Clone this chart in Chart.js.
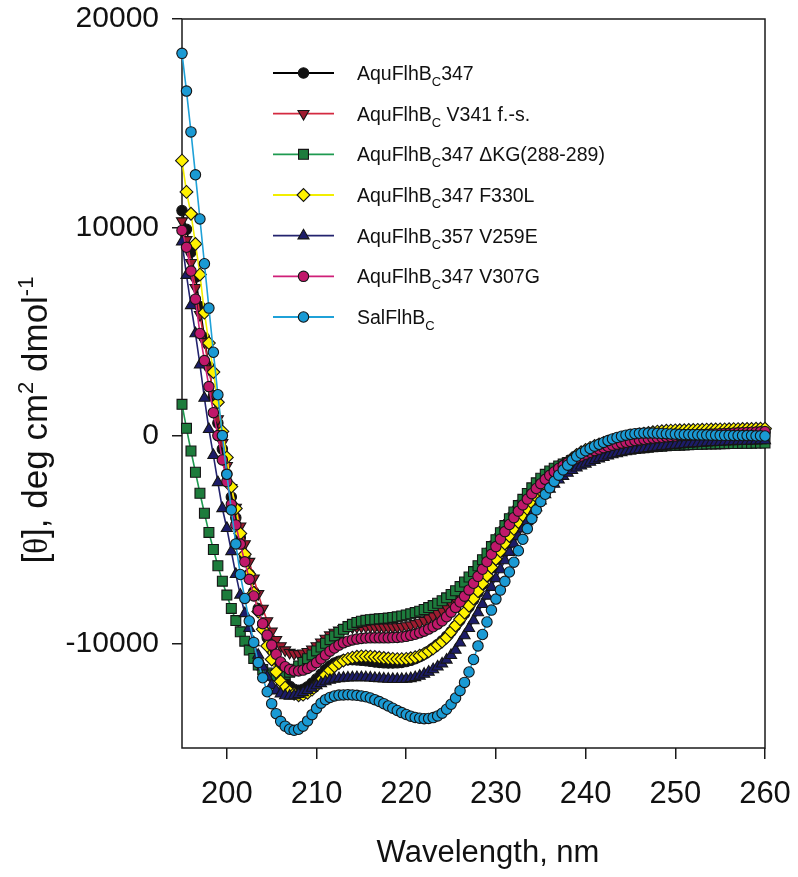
<!DOCTYPE html>
<html>
<head>
<meta charset="utf-8">
<script src="https://cdn.jsdelivr.net/npm/chart.js@4.4.1/dist/chart.umd.min.js"></script>
<style>
  html, body { margin: 0; padding: 0; background: #fff; }
  canvas { display: block; }
</style>
</head>
<body>
<canvas id="cd" width="798" height="877"></canvas>
<script>
// wavelength grid of the CD scans, nm (0.5 nm steps, 195..260)
const wavelengths = [];
for (let w = 195; w <= 260; w += 0.5) wavelengths.push(w);

const xTicks = [200, 210, 220, 230, 240, 250, 260];
const yTicks = [-10000, 0, 10000, 20000];

// legend names, "_C" = subscript C
const seriesNames = [
  'AquFlhB_C347',
  'AquFlhB_C V341 f.-s.',
  'AquFlhB_C347 \u0394KG(288-289)',
  'AquFlhB_C347 F330L',
  'AquFlhB_C357 V259E',
  'AquFlhB_C347 V307G',
  'SalFlhB_C'
];

// mean residue ellipticity, deg cm2 dmol-1
const aqu347 = [
  10800, 9900, 8800, 7600, 6200, 4700, 3300, 1900, 600, -650,
  -1850, -2950, -3950, -4900, -5800, -6650, -7500, -8300, -9050, -9700,
  -10300, -10850, -11350, -11750, -12030, -12180, -12230, -12180, -12060, -11880,
  -11680, -11450, -11230, -11050, -10920, -10830, -10780, -10760, -10760, -10770,
  -10790, -10810, -10840, -10870, -10890, -10910, -10920, -10920, -10910, -10890,
  -10850, -10790, -10710, -10610, -10490, -10350, -10200, -10030, -9850, -9640,
  -9410, -9140, -8860, -8550, -8230, -7890, -7530, -7150, -6760, -6360,
  -5960, -5570, -5190, -4820, -4470, -4130, -3810, -3500, -3200, -2910,
  -2630, -2370, -2120, -1890, -1680, -1480, -1300, -1140, -1000, -870,
  -760, -660, -570, -490, -420, -350, -290, -240, -190, -150,
  -110, -80, -50, -30, -10, 10, 20, 30, 40, 50,
  60, 60, 70, 70, 80, 80, 90, 90, 90, 100,
  100, 100, 110, 110, 110, 120, 120, 120, 120, 130,
  130
];
const aquV341fs = [
  10300, 9400, 8300, 7100, 5800, 4500, 3200, 2000, 800, -350,
  -1450, -2500, -3450, -4350, -5200, -6050, -6850, -7600, -8300, -8900,
  -9400, -9800, -10100, -10300, -10420, -10470, -10480, -10450, -10380, -10260,
  -10100, -9920, -9740, -9580, -9450, -9350, -9280, -9230, -9200, -9180,
  -9170, -9170, -9170, -9180, -9190, -9200, -9200, -9200, -9190, -9170,
  -9140, -9100, -9040, -8970, -8880, -8780, -8670, -8540, -8400, -8240,
  -8060, -7860, -7640, -7400, -7140, -6860, -6560, -6240, -5910, -5570,
  -5220, -4870, -4520, -4180, -3860, -3550, -3260, -2980, -2720, -2480,
  -2250, -2040, -1850, -1680, -1520, -1380, -1250, -1130, -1020, -920,
  -830, -740, -660, -590, -520, -460, -400, -350, -300, -250,
  -210, -170, -130, -100, -70, -40, -20, 0, 20, 40,
  60, 70, 80, 90, 100, 110, 120, 130, 140, 150,
  160, 170, 170, 180, 180, 190, 190, 200, 200, 210,
  210
];
const aquDeltaKG = [
  1500, 350, -740, -1760, -2770, -3730, -4650, -5470, -6250, -6990,
  -7660, -8300, -8880, -9420, -9870, -10300, -10700, -11020, -11230, -11400,
  -11490, -11530, -11520, -11460, -11360, -11220, -11060, -10890, -10710, -10530,
  -10340, -10150, -9970, -9800, -9620, -9450, -9300, -9170, -9060, -8970,
  -8910, -8870, -8840, -8820, -8800, -8780, -8760, -8730, -8700, -8660,
  -8610, -8560, -8500, -8430, -8350, -8260, -8160, -8050, -7930, -7790,
  -7630, -7450, -7250, -7030, -6790, -6530, -6250, -5960, -5650, -5330,
  -5000, -4660, -4320, -3990, -3670, -3360, -3060, -2780, -2510, -2270,
  -2050, -1860, -1700, -1570, -1460, -1370, -1290, -1220, -1150, -1090,
  -1030, -980, -930, -880, -840, -800, -760, -730, -700, -670,
  -650, -620, -600, -580, -560, -540, -520, -510, -490, -480,
  -470, -460, -450, -440, -430, -420, -420, -410, -400, -400,
  -390, -390, -380, -380, -380, -370, -370, -370, -360, -360,
  -360
];
const aquF330L = [
  13200, 11700, 10650, 9200, 7730, 5900, 4440, 3050, 1600, 200,
  -1050, -2450, -3500, -4700, -5700, -6650, -7550, -8450, -9300, -10100,
  -10750, -11350, -11800, -12100, -12300, -12400, -12470, -12440, -12350, -12200,
  -12000, -11750, -11500, -11270, -11080, -10920, -10800, -10720, -10660, -10620,
  -10600, -10600, -10610, -10630, -10650, -10680, -10700, -10720, -10730, -10730,
  -10720, -10690, -10640, -10570, -10480, -10360, -10220, -10060, -9890, -9700,
  -9420, -9120, -8820, -8500, -8170, -7830, -7470, -7100, -6720, -6330,
  -5930, -5550, -5180, -4820, -4480, -4150, -3830, -3520, -3220, -2930,
  -2650, -2380, -2120, -1880, -1650, -1440, -1250, -1080, -930, -800,
  -690, -590, -500, -420, -350, -290, -230, -180, -140, -100,
  -50, 0, 50, 90, 130, 160, 190, 210, 230, 240,
  250, 255, 260, 265, 270, 275, 280, 285, 290, 295,
  300, 300, 305, 310, 310, 315, 320, 320, 325, 330,
  330
];
const aqu357V259E = [
  9300, 7700, 6250, 4900, 3400, 1800, 300, -950, -2250, -3500,
  -4450, -5560, -6660, -7650, -8540, -9250, -9940, -10540, -11100, -11590,
  -11990, -12250, -12400, -12480, -12500, -12480, -12420, -12330, -12230, -12120,
  -12000, -11900, -11810, -11740, -11690, -11660, -11640, -11630, -11620, -11610,
  -11610, -11620, -11630, -11650, -11660, -11680, -11690, -11700, -11700, -11700,
  -11690, -11660, -11610, -11540, -11450, -11350, -11230, -11100, -10960, -10770,
  -10550, -10300, -9950, -9600, -9250, -8880, -8500, -8100, -7700, -7280,
  -6860, -6430, -6000, -5600, -5200, -4830, -4470, -4120, -3780, -3450,
  -3130, -2830, -2560, -2330, -2120, -1950, -1800, -1670, -1550, -1450,
  -1360, -1270, -1190, -1110, -1040, -970, -910, -860, -810, -770,
  -730, -700, -670, -640, -610, -580, -550, -520, -500, -480,
  -460, -440, -420, -400, -390, -370, -360, -340, -330, -320,
  -310, -300, -290, -280, -270, -260, -260, -250, -250, -240,
  -240
];
const aquV307G = [
  9850, 9040, 7900, 6550, 4900, 3600, 2350, 1100, 0, -1170,
  -2210, -3300, -4290, -5210, -6060, -6900, -7700, -8400, -9030, -9580,
  -10060, -10500, -10870, -11100, -11240, -11300, -11300, -11260, -11180, -11060,
  -10900, -10720, -10530, -10350, -10200, -10060, -9950, -9870, -9810, -9770,
  -9740, -9720, -9710, -9710, -9710, -9710, -9710, -9700, -9690, -9670,
  -9640, -9590, -9540, -9470, -9390, -9290, -9180, -9050, -8900, -8700,
  -8480, -8250, -7990, -7710, -7410, -7090, -6760, -6420, -6060, -5700,
  -5330, -4970, -4610, -4270, -3940, -3630, -3330, -3050, -2790, -2540,
  -2310, -2100, -1910, -1740, -1580, -1440, -1310, -1190, -1080, -980,
  -890, -800, -720, -650, -580, -520, -460, -410, -360, -320,
  -280, -240, -210, -180, -150, -120, -100, -80, -60, -40,
  -20, 0, 10, 20, 30, 40, 50, 60, 70, 80,
  90, 100, 110, 120, 130, 140, 150, 160, 170, 180,
  190
];
const salFlhBC = [
  18350, 16540, 14580, 12520, 10400, 8250, 6120, 4000, 1960, 0,
  -1860, -3570, -5200, -6670, -7820, -8900, -9930, -10900, -11630, -12300,
  -12870, -13350, -13720, -13950, -14100, -14150, -14100, -13950, -13700, -13400,
  -13100, -12850, -12680, -12570, -12500, -12460, -12450, -12440, -12450, -12470,
  -12500, -12540, -12600, -12680, -12770, -12870, -12980, -13090, -13200, -13300,
  -13390, -13470, -13530, -13570, -13590, -13580, -13540, -13460, -13330, -13140,
  -12900, -12600, -12250, -11850, -11350, -10750, -10100, -9550, -8950, -8380,
  -7850, -7420, -7000, -6550, -6080, -5530, -4980, -4470, -3990, -3570,
  -3170, -2820, -2510, -2200, -1900, -1650, -1420, -1180, -990, -850,
  -730, -620, -510, -420, -330, -240, -160, -90, -30, 20,
  60, 90, 110, 120, 120, 120, 110, 100, 90, 80,
  70, 60, 50, 50, 40, 40, 30, 30, 20, 20,
  10, 10, 10, 0, 0, 0, 0, 0, -10, -10,
  -20
];

const seriesValues = [aqu347, aquV341fs, aquDeltaKG, aquF330L, aqu357V259E, aquV307G, salFlhBC];

const lineColors = ['#000000', '#d42a40', '#1e9a50', '#f2ee00', '#23236e', '#cf1f78', '#1fa1d8'];
const fillColors = ['#111111', '#9e1b30', '#1d7c3c', '#fff200', '#1c1c68', '#c0186a', '#1a9ad4'];
const pointStyles = ['circle', 'triangle', 'rect', 'rectRot', 'triangle', 'circle', 'circle'];
const pointRotations = [0, 180, 0, 0, 0, 0, 0];
const pointRadii = [5.2, 6.4, 7, 6.4, 6.4, 5.2, 5.2];

const SANS = '"Liberation Sans", Arial, Helvetica, sans-serif';
const SERIF = '"Liberation Serif", "Times New Roman", serif';

const datasets = seriesValues.map((vals, i) => ({
  label: seriesNames[i].replace('_', ''),
  data: vals.map((v, j) => ({ x: wavelengths[j], y: v })),
  borderColor: lineColors[i],
  borderWidth: 1.6,
  backgroundColor: fillColors[i],
  pointBackgroundColor: fillColors[i],
  pointBorderColor: '#151515',
  pointBorderWidth: 1.1,
  pointStyle: pointStyles[i],
  rotation: pointRotations[i],
  pointRadius: pointRadii[i],
  tension: 0,
  clip: false,
  order: seriesValues.length - 1 - i
}));

// draw text made of runs (font, baseline shift)
function drawRuns(ctx, runs, x, y) {
  let cx = x;
  runs.forEach(r => {
    ctx.font = r.font;
    ctx.fillText(r.t, cx, y + (r.dy || 0));
    cx += ctx.measureText(r.t).width;
  });
}
function runsWidth(ctx, runs) {
  let w = 0;
  runs.forEach(r => { ctx.font = r.font; w += ctx.measureText(r.t).width; });
  return w;
}

const framePlugin = {
  id: 'frame',
  beforeDatasetsDraw(chart) {
    const { ctx, chartArea: a } = chart;
    ctx.save();
    ctx.strokeStyle = '#1a1a1a';
    ctx.lineWidth = 1.5;
    ctx.strokeRect(a.left, a.top, a.right - a.left, a.bottom - a.top);
    ctx.restore();
  }
};

const textPlugin = {
  id: 'texts',
  afterDraw(chart) {
    const ctx = chart.ctx;
    ctx.save();
    ctx.fillStyle = '#111';
    ctx.textBaseline = 'alphabetic';
    ctx.textAlign = 'left';

    // legend
    const rowTop = 73, rowStep = 40.67;
    seriesNames.forEach((name, i) => {
      const y = rowTop + i * rowStep;
      ctx.strokeStyle = lineColors[i];
      ctx.lineWidth = 1.8;
      ctx.beginPath();
      ctx.moveTo(273, y);
      ctx.lineTo(334, y);
      ctx.stroke();
      ctx.fillStyle = fillColors[i];
      ctx.strokeStyle = '#151515';
      ctx.lineWidth = 1.1;
      Chart.helpers.drawPoint(ctx, {
        pointStyle: pointStyles[i], radius: pointRadii[i],
        rotation: pointRotations[i], borderWidth: 1.1
      }, 303.5, y);
      const k = name.indexOf('_');
      const runs = [
        { t: name.slice(0, k), font: '19.5px ' + SANS },
        { t: name.charAt(k + 1), font: '13px ' + SANS, dy: 6 },
        { t: name.slice(k + 2), font: '19.5px ' + SANS }
      ];
      ctx.fillStyle = '#111';
      drawRuns(ctx, runs, 357, y + 7);
    });

    // y axis title
    const yRuns = [
      { t: '[', font: '35px ' + SANS },
      { t: '\u03b8', font: '33px ' + SERIF },
      { t: '], deg cm', font: '35px ' + SANS },
      { t: '2', font: '22px ' + SANS, dy: -14 },
      { t: ' dmol', font: '35px ' + SANS },
      { t: '-1', font: '22px ' + SANS, dy: -14 }
    ];
    const w = runsWidth(ctx, yRuns);
    ctx.save();
    ctx.translate(47, 420);
    ctx.rotate(-Math.PI / 2);
    drawRuns(ctx, yRuns, -w / 2, 0);
    ctx.restore();

    // x axis title
    ctx.font = '31px ' + SANS;
    ctx.textAlign = 'center';
    ctx.fillText('Wavelength, nm', 488, 862);
    ctx.restore();
  }
};

new Chart(document.getElementById('cd'), {
  type: 'line',
  data: { datasets },
  options: {
    responsive: false,
    animation: false,
    devicePixelRatio: 1,
    layout: { padding: { top: 19, right: 33, left: 0, bottom: 0 } },
    plugins: { legend: { display: false }, tooltip: { enabled: false } },
    scales: {
      x: {
        type: 'linear', min: 195, max: 260,
        afterBuildTicks: s => { s.ticks = xTicks.map(v => ({ value: v })); },
        afterFit: s => { s.height = 129; s.paddingLeft = 0; s.paddingRight = 0; },
        grid: { drawOnChartArea: false, drawTicks: true, tickLength: 11, color: '#1a1a1a', lineWidth: 1.5 },
        border: { display: false },
        ticks: { font: { family: SANS, size: 31 }, color: '#111', padding: 17, maxRotation: 0, callback: v => String(v) }
      },
      y: {
        type: 'linear', min: -15000, max: 20000,
        afterBuildTicks: s => { s.ticks = yTicks.map(v => ({ value: v })); },
        afterFit: s => { s.width = 182; s.paddingTop = 0; s.paddingBottom = 0; },
        grid: { drawOnChartArea: false, drawTicks: true, tickLength: 10, color: '#1a1a1a', lineWidth: 1.5 },
        border: { display: false },
        ticks: { font: { family: SANS, size: 30 }, color: '#111', padding: 13, callback: v => String(v) }
      }
    }
  },
  plugins: [framePlugin, textPlugin]
});
</script>
</body>
</html>
